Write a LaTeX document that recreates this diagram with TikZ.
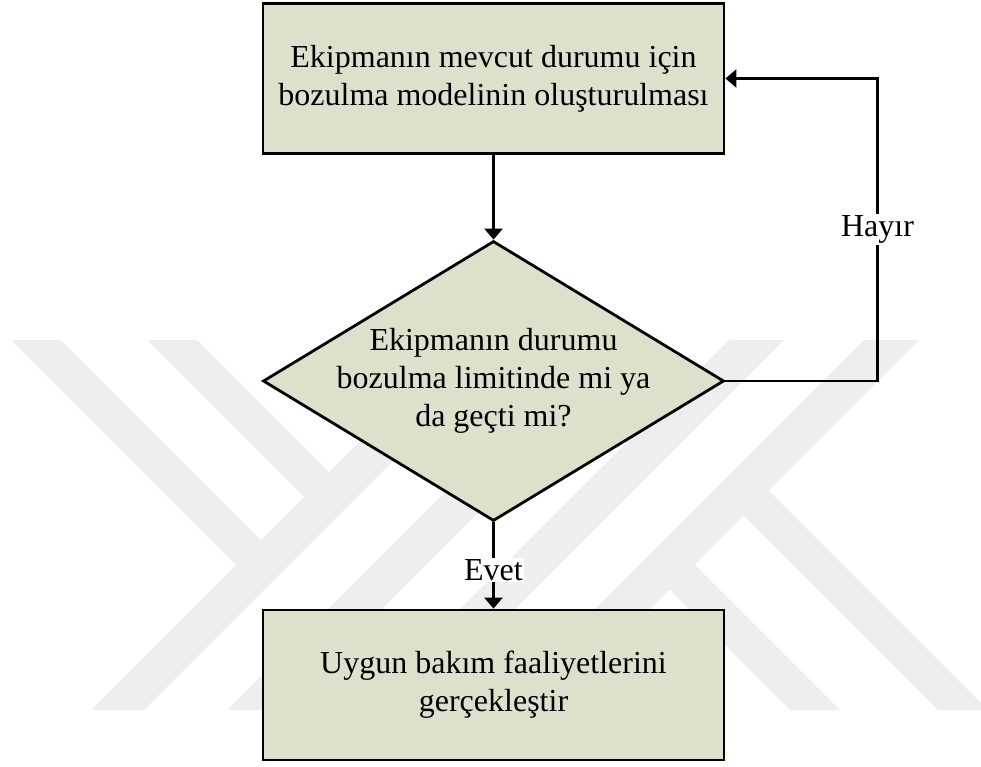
\documentclass[tikz,border=0pt]{standalone}
\usepackage{fontspec}
\setmainfont{Liberation Serif}
\usetikzlibrary{arrows.meta,shapes.geometric}
\definecolor{boxfill}{RGB}{221,225,204}
\definecolor{markgray}{RGB}{238,238,238}
\begin{document}
\begin{tikzpicture}[x=1pt,y=-1pt,
  txt/.style={font=\fontsize{32}{38}\selectfont,align=center,inner sep=0pt},
  procbox/.style={txt,draw=black,fill=boxfill,line width=2.8pt,
    minimum width=461pt,minimum height=150pt},
  decision/.style={diamond,draw=black,fill=boxfill,line width=2.8pt,
    minimum width=461pt,minimum height=280pt,inner sep=0pt},
  flow/.style={line width=2.6pt,-{Triangle[width=18pt,length=11pt]}},
  lbl/.style={txt,fill=white,inner sep=1.5pt}]
\useasboundingbox (0,0) rectangle (981,767);

% background emblem made of diagonal bands
\begin{scope}[fill=markgray]
  % bands rising to the right
  \fill (461,340) -- (514,340) -- (144,710) -- (91,710) -- cycle;
  \fill (597,340) -- (651,340) -- (281,710) -- (227,710) -- cycle;
  \fill (729,340) -- (784,340) -- (414,710) -- (359,710) -- cycle;
  \fill (864,340) -- (919,340) -- (549,710) -- (494,710) -- cycle;
  % short bands falling to the right
  \fill (11,340) -- (61,340) -- (274.25,553.25) -- (249.25,578.25) -- cycle;
  \fill (147,340) -- (197,340) -- (342.25,485.25) -- (317.25,510.25) -- cycle;
  \fill (790,710) -- (840,710) -- (680.75,550.75) -- (655.75,575.75) -- cycle;
  \fill (938,710) -- (988,710) -- (754.75,476.75) -- (729.75,501.75) -- cycle;
\end{scope}

% flowchart
\node[procbox] (model) at (493.5,78.5)
  {Ekipmanın mevcut durumu için\\bozulma modelinin oluşturulması};
\node[decision] (check) at (493.5,381) {};
\node[txt] (checktext) at (check.center)
  {Ekipmanın durumu\\bozulma limitinde mi ya\\da geçti mi?};
\node[procbox] (act) at (493.5,685)
  {Uygun bakım faaliyetlerini\\gerçekleştir};

\coordinate (loopturn) at (877.5,381);

\draw[flow] (model.south) -- (check.north);
\draw[flow] (check.east) -- (loopturn) |- (model.east)
  node[lbl,pos=0.25] {Hayır};
\draw[flow] (check.south) -- (act.north)
  node[lbl,pos=0.55] {Evet};
\end{tikzpicture}
\end{document}
